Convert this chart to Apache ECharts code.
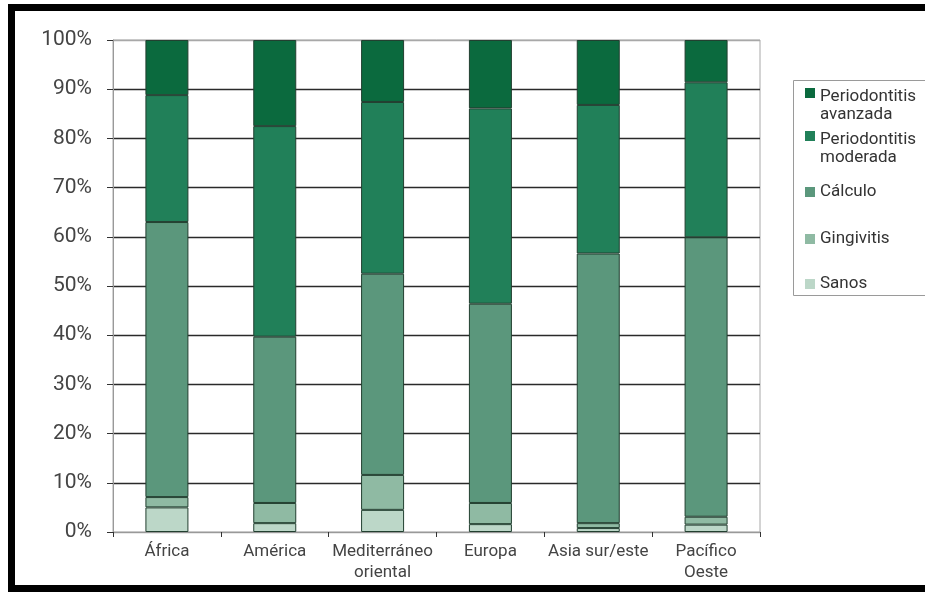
<!DOCTYPE html>
<html><head><meta charset="utf-8">
<script src="https://cdn.jsdelivr.net/npm/echarts@6/dist/echarts.min.js"></script>
<style>html,body{margin:0;padding:0;background:#fff}#c{width:925px;height:592px}</style>
</head><body><div id="c"></div>
<script>
const categories = ['África', 'América', 'Mediterráneo\noriental', 'Europa', 'Asia sur/este', 'Pacífico\nOeste'];
const sanos      = [5.0, 1.8, 4.5, 1.6, 0.8, 1.5];
const gingivitis = [2.1, 4.1, 7.1, 4.3, 1.0, 1.6];
const calculo    = [55.9, 33.8, 40.9, 40.5, 54.8, 56.8];
const moderada   = [25.8, 42.8, 34.9, 39.7, 30.2, 31.5];
const avanzada   = [11.2, 17.5, 12.6, 13.9, 13.2, 8.6];
const yTicks = [0, 10, 20, 30, 40, 50, 60, 70, 80, 90, 100];
const seriesNames = ['Sanos', 'Gingivitis', 'Cálculo', 'Periodontitis moderada', 'Periodontitis avanzada'];
const colors = ['#bcd7c8', '#8fbaa3', '#5b977c', '#218059', '#0b6a3e'];

const chart = echarts.init(document.getElementById('c'), null, {renderer: 'canvas'});
const font = 'Roboto, "Liberation Sans", sans-serif';
const dataSets = [sanos, gingivitis, calculo, moderada, avanzada];
const series = seriesNames.map((n, i) => ({
  name: n, type: 'bar', stack: 'all', barWidth: 43,
  data: dataSets[i],
  itemStyle: {color: colors[i], borderColor: '#223f30', borderWidth: 1}
}));
const tallIcon = 'path://M0,0h10v10h-10zM0,35.95h0.01v0.01h-0.01z';
function mkLegend(name, top, two) {
  return {
    data: [name], left: 805, top: top, orient: 'vertical', padding: 0,
    itemWidth: 10, itemHeight: two ? 36 : 10,
    icon: two ? tallIcon : 'rect',
    itemStyle: {borderWidth: 0},
    formatter: n => n.replace(' ', '\n'),
    textStyle: {fontFamily: font, fontSize: 17, lineHeight: 18, color: '#333'},
    selectedMode: false
  };
}
const lineColors = yTicks.map((v, i) => (i === 0 || i === yTicks.length - 1) ? '#a8a8a8' : '#2a2a2a');
chart.setOption({
  animation: false,
  backgroundColor: '#fff',
  grid: {left: 113, right: 165, top: 40, bottom: 60, show: true, borderColor: '#a8a8a8', borderWidth: 1, backgroundColor: 'transparent'},
  xAxis: {
    type: 'category', data: categories,
    axisLine: {lineStyle: {color: '#999'}},
    axisTick: {show: true, length: 5, lineStyle: {color: '#333'}},
    axisLabel: {interval: 0, fontFamily: font, fontSize: 17, lineHeight: 21, color: '#444', margin: 9}
  },
  yAxis: {
    type: 'value', min: 0, max: 100, interval: 10,
    axisLine: {show: true, lineStyle: {color: '#999'}},
    axisTick: {show: true, length: 6, lineStyle: {color: '#333'}},
    axisLabel: {formatter: '{value}%', fontFamily: font, fontSize: 21, color: '#444', margin: 21},
    splitLine: {show: true, lineStyle: {color: lineColors, width: 1.3}}
  },
  legend: [
    mkLegend('Periodontitis avanzada', 88, true),
    mkLegend('Periodontitis moderada', 131, true),
    mkLegend('Cálculo', 183, false),
    mkLegend('Gingivitis', 230, false),
    mkLegend('Sanos', 275, false)
  ],
  graphic: [
    {type: 'rect', shape: {x: 793.5, y: 80.5, width: 200, height: 215}, style: {fill: 'none', stroke: '#9a9a9a', lineWidth: 1}, z: 0},
    {type: 'rect', shape: {x: 11.5, y: 7.5, width: 940, height: 581}, style: {fill: 'none', stroke: '#000', lineWidth: 7}, z: 10}
  ],
  series: series
});
</script></body></html>
